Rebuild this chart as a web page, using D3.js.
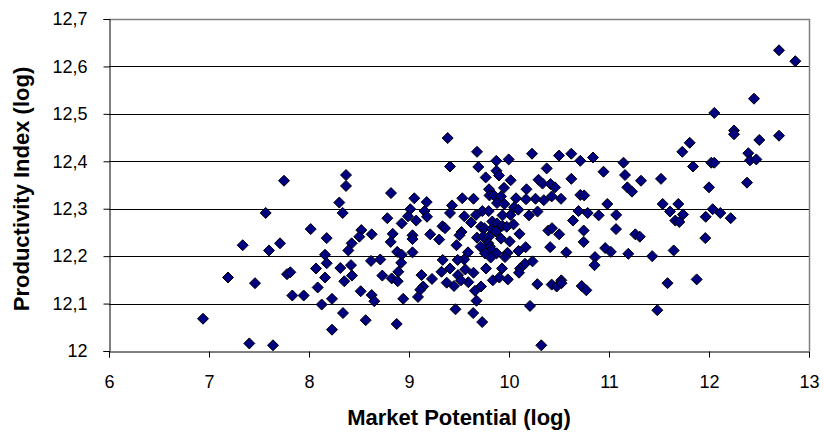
<!DOCTYPE html>
<html>
<head>
<meta charset="utf-8">
<script src="https://cdn.jsdelivr.net/npm/d3@7"></script>
<style>
  html, body { margin: 0; padding: 0; background: #fff; }
  svg { display: block; font-family: "Liberation Sans", Arial, sans-serif; }
</style>
</head>
<body>
<svg id="chart" width="824" height="444"></svg>
<script>
// Market potential (log) for each observation
const marketPotential = [
  7.567, 7.337, 7.60, 7.71, 7.19, 7.46, 6.94, 7.403, 7.64, 7.75,
  8.37, 8.37, 8.82, 8.303, 8.337, 8.783, 8.017, 8.523, 8.503, 8.627,
  8.837, 8.177, 8.817, 8.427, 8.393, 8.16, 8.177, 8.62, 8.713, 8.42,
  8.313, 8.07, 7.78, 7.813, 8.43, 8.16, 8.733, 8.827, 8.353, 8.087,
  8.517, 7.833, 7.947, 8.627, 8.23, 8.653, 8.127, 8.34, 8.567, 8.23,
  9.053, 9.177, 9.43, 9.013, 9.155, 9.41, 9.18, 8.99, 9.072, 8.927,
  9.035, 9.035, 9.212, 9.335, 9.36, 9.302, 8.882, 9.035, 8.927, 8.922,
  9.337, 9.41, 9.325, 8.893, 9.125, 9.23, 8.887, 9.377, 9.45, 9.142,
  9.112, 9.09, 8.942, 9.465, 8.877,
  9.387, 9.41, 9.68, 9.693, 9.873, 9.997, 10.23, 10.50, 10.623, 10.713,
  10.84, 11.145, 9.767, 9.875, 9.90, 10.017, 10.377, 10.623, 10.945, 11.16,
  10.295, 10.335, 10.415, 10.46, 9.80, 9.95, 10.175, 11.183, 11.32, 11.23,
  9.805, 9.85, 9.92, 9.88, 9.953, 10.07, 10.17, 10.265, 10.348, 10.427,
  10.52, 9.533, 9.645, 10.05, 10.093, 9.733, 9.797, 9.67, 9.553, 9.935,
  10.015, 10.20, 10.285, 10.713, 10.752, 10.983, 10.695, 10.787, 10.897, 11.072,
  10.64, 11.07, 10.747, 10.393, 10.43, 10.502, 10.747, 11.263, 11.308,
  9.62, 9.72, 9.753, 9.827, 9.833, 9.88, 9.933, 9.977, 10.045, 10.105,
  9.525, 9.505, 9.68, 9.74, 9.80, 9.87, 9.92, 10.007, 9.793, 9.81,
  9.715, 9.475, 9.59, 9.827, 9.76, 9.877, 9.985, 10.095, 10.167, 9.552,
  9.487, 9.817, 9.96, 10.16, 10.11, 10.10, 9.77, 9.563, 9.93, 9.645,
  9.49, 9.593, 9.52, 9.838, 9.903, 9.988, 9.72, 9.66, 9.675, 9.642,
  9.732, 10.235,
  10.283, 10.427, 10.477, 10.523, 10.525, 10.727, 10.773, 10.21, 10.323, 10.412,
  10.573, 10.962, 11.018, 11.193, 11.432, 10.86, 10.855,
  12.70, 12.863, 12.45, 12.053, 12.25, 12.25, 12.503, 12.70, 11.807, 11.733,
  11.84, 12.023, 12.053, 12.393, 12.41, 12.473, 11.52, 12.00, 12.38, 11.537,
  11.693, 11.61, 11.74, 11.663, 11.703, 11.967, 12.037, 12.113, 12.217, 11.963,
  11.647, 11.585, 11.877, 11.483
];

// Productivity index (log), same order as marketPotential
const productivityIndex = [
  12.291, 12.223, 12.212, 12.227, 12.155, 12.143, 12.068, 12.016, 12.012, 12.359,
  12.371, 12.348, 12.333, 12.313, 12.291, 12.280, 12.257, 12.255, 12.241, 12.246,
  12.247, 12.238, 12.230, 12.227, 12.212, 12.203, 12.185, 12.190, 12.193, 12.181,
  12.175, 12.174, 12.162, 12.166, 12.159, 12.155, 12.159, 12.153, 12.147, 12.134,
  12.126, 12.117, 12.117, 12.118, 12.110, 12.105, 12.098, 12.080, 12.065, 12.045,
  12.322, 12.314, 12.307, 12.299, 12.295, 12.291, 12.283, 12.284, 12.275, 12.269,
  12.244, 12.236, 12.246, 12.263, 12.259, 12.235, 12.209, 12.208, 12.203, 12.186,
  12.192, 12.174, 12.167, 12.167, 12.160, 12.152, 12.147, 12.144, 12.137, 12.136,
  12.129, 12.114, 12.110, 12.088, 12.057,
  12.449, 12.389, 12.420, 12.388, 12.401, 12.404, 12.416, 12.412, 12.416, 12.401,
  12.408, 12.397, 12.366, 12.380, 12.370, 12.360, 12.385, 12.363, 12.378, 12.371,
  12.361, 12.353, 12.352, 12.345, 12.341, 12.344, 12.341, 12.345, 12.359, 12.336,
  12.328, 12.328, 12.326, 12.312, 12.310, 12.322, 12.320, 12.321, 12.318, 12.326,
  12.321, 12.322, 12.321, 12.303, 12.298, 12.295, 12.295, 12.287, 12.284, 12.286,
  12.287, 12.286, 12.294, 12.329, 12.328, 12.310, 12.295, 12.291, 12.286, 12.287,
  12.275, 12.257, 12.254, 12.254, 12.259, 12.246, 12.230, 12.246, 12.241,
  12.271, 12.262, 12.259, 12.257, 12.273, 12.269, 12.264, 12.262, 12.267, 12.247,
  12.251, 12.244, 12.239, 12.241, 12.241, 12.252, 12.237, 12.231, 12.227, 12.220,
  12.220, 12.223, 12.208, 12.213, 12.206, 12.206, 12.207, 12.211, 12.219, 12.193,
  12.192, 12.197, 12.198, 12.184, 12.174, 12.165, 12.174, 12.172, 12.174, 12.165,
  12.160, 12.145, 12.149, 12.149, 12.155, 12.151, 12.136, 12.127, 12.106, 12.080,
  12.061, 12.189,
  12.141, 12.140, 12.136, 12.149, 12.143, 12.137, 12.128, 12.095, 12.012, 12.219,
  12.208, 12.217, 12.209, 12.205, 12.200, 12.198, 12.181,
  12.634, 12.611, 12.532, 12.502, 12.465, 12.457, 12.445, 12.454, 12.439, 12.420,
  12.389, 12.397, 12.397, 12.417, 12.402, 12.404, 12.363, 12.345, 12.355, 12.310,
  12.310, 12.294, 12.288, 12.275, 12.272, 12.283, 12.299, 12.291, 12.280, 12.238,
  12.212, 12.143, 12.151, 12.086
];

// Axis ticks and their labels (comma decimal separator)
const xTickValues = [6, 7, 8, 9, 10, 11, 12, 13];
const xTickLabels = ["6", "7", "8", "9", "10", "11", "12", "13"];
const yTickValues = [12, 12.1, 12.2, 12.3, 12.4, 12.5, 12.6, 12.7];
const yTickLabels = ["12", "12,1", "12,2", "12,3", "12,4", "12,5", "12,6", "12,7"];

const xTitle = "Market Potential (log)";
const yTitle = "Productivity Index (log)";

const svg = d3.select("#chart");
const plot = { left: 109, right: 809, top: 19, bottom: 351 };

const x = d3.scaleLinear().domain([6, 13]).range([plot.left, plot.right]);
const y = d3.scaleLinear().domain([12, 12.7]).range([plot.bottom, plot.top]);

// Horizontal gridlines
svg.append("g")
  .selectAll("line")
  .data(yTickValues.slice(1, -1))
  .join("line")
  .attr("x1", plot.left).attr("x2", plot.right)
  .attr("y1", d => Math.round(y(d)) + 0.5)
  .attr("y2", d => Math.round(y(d)) + 0.5)
  .attr("stroke", "#000")
  .attr("stroke-width", 1);

// Plot area frame (top and right edges)
svg.append("path")
  .attr("d", `M${plot.left},${plot.top + 0.5} H${plot.right + 0.5} V${plot.bottom}`)
  .attr("fill", "none")
  .attr("stroke", "#808080")
  .attr("stroke-width", 1.5);

// Y axis
const yAxis = d3.axisLeft(y)
  .tickValues(yTickValues)
  .tickFormat((d, i) => yTickLabels[i])
  .tickSize(6)
  .tickPadding(16);
const gy = svg.append("g")
  .attr("transform", `translate(${plot.left + 0.5},0)`)
  .call(yAxis);
gy.select(".domain").attr("stroke", "#000");
gy.selectAll(".tick line").attr("stroke", "#000");
gy.selectAll(".tick text")
  .attr("font-size", 18)
  .attr("font-family", "'Liberation Sans', Arial, sans-serif")
  .attr("fill", "#000");

// X axis
const xAxis = d3.axisBottom(x)
  .tickValues(xTickValues)
  .tickFormat((d, i) => xTickLabels[i])
  .tickSize(6)
  .tickPadding(18);
const gx = svg.append("g")
  .attr("transform", `translate(0,${plot.bottom + 0.5})`)
  .call(xAxis);
gx.select(".domain").attr("stroke", "#000");
gx.selectAll(".tick line").attr("stroke", "#000");
gx.selectAll(".tick text")
  .attr("font-size", 18)
  .attr("font-family", "'Liberation Sans', Arial, sans-serif")
  .attr("fill", "#000");

// Axis titles
svg.append("text")
  .attr("x", (plot.left + plot.right) / 2)
  .attr("y", 425)
  .attr("text-anchor", "middle")
  .attr("font-size", 22)
  .attr("font-weight", "bold")
  .text(xTitle);

svg.append("text")
  .attr("transform", `translate(29,${(plot.top + plot.bottom) / 2 + 4}) rotate(-90)`)
  .attr("text-anchor", "middle")
  .attr("font-size", 22)
  .attr("font-weight", "bold")
  .text(yTitle);

// Diamond markers
const r = 5.5;
const diamond = `M0,${-r}L${r},0L0,${r}L${-r},0Z`;
const points = marketPotential.map((mp, i) => ({ mp, pi: productivityIndex[i] }));

svg.append("g")
  .selectAll("path")
  .data(points)
  .join("path")
  .attr("d", diamond)
  .attr("transform", d => `translate(${x(d.mp)},${y(d.pi)})`)
  .attr("fill", "#000080")
  .attr("stroke", "#000")
  .attr("stroke-width", 1);
</script>
</body>
</html>
